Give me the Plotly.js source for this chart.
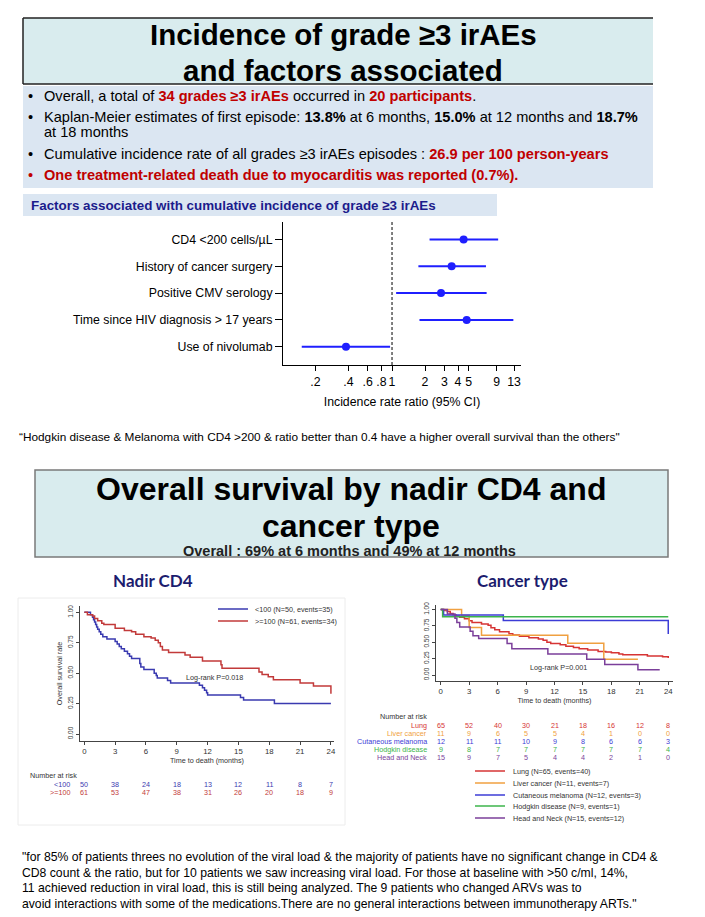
<!DOCTYPE html>
<html><head><meta charset="utf-8">
<script src="https://cdn.plot.ly/plotly-3.0.1.min.js"></script>
<style>html,body{margin:0;padding:0;background:#fff}#chart{width:705px;height:917px}</style>
</head><body><div id="chart"></div>
<script>
// ---------------- Forest plot data ----------------
const factorLabels = ["CD4 <200 cells/µL","History of cancer surgery","Positive CMV serology","Time since HIV diagnosis > 17 years","Use of nivolumab"];
const irrEstimate = [4.5, 3.5, 2.8, 4.8, 0.38];
const irrLower = [2.2, 1.74, 1.09, 1.78, 0.15];
const irrUpper = [9.3, 7.2, 7.3, 12.8, 0.96];
const irrTickVals = [0.2, 0.4, 0.6, 0.8, 1, 2, 3, 4, 5, 9, 13];
const irrTickText = [".2", ".4", ".6", ".8", "1", "2", "3", "4", "5", "9", "13"];

// ---------------- Nadir CD4 KM data ----------------
const kmTicks = [0, 3, 6, 9, 12, 15, 18, 21, 24];
const nadirLowTime = [0,0.6,0.8,0.9,1.0,1.1,1.2,1.3,1.45,1.6,1.8,2.2,3.0,3.2,3.4,3.6,3.9,4.2,4.4,4.6,5.4,5.5,5.8,6.8,7.0,7.1,8.1,8.4,11.2,11.5,11.7,11.9,12.0,15.2,15.5,18.5,24];
const nadirLowSurv = [1,0.98,0.96,0.94,0.92,0.90,0.88,0.86,0.84,0.82,0.80,0.78,0.76,0.74,0.72,0.70,0.68,0.66,0.64,0.62,0.58,0.55,0.53,0.50,0.48,0.46,0.44,0.42,0.40,0.38,0.36,0.34,0.32,0.30,0.28,0.25,0.25];
const nadirHighTime = [0,0.3,0.8,1.0,1.3,1.7,1.9,3.0,3.9,4.6,5.0,5.8,6.5,6.9,7.2,7.4,7.6,8.2,9.8,10.3,11.5,13.3,13.4,17.0,17.3,17.9,18.4,21.0,22.3,24.0];
const nadirHighSurv = [1,0.98,0.97,0.95,0.93,0.91,0.90,0.87,0.85,0.84,0.82,0.80,0.79,0.77,0.75,0.72,0.69,0.67,0.65,0.63,0.60,0.57,0.54,0.51,0.49,0.47,0.445,0.42,0.395,0.33];
const nadirGroupLabels = ["<100", ">=100"];
const nadirGroupN = [50, 61];
const nadirGroupEvents = [35, 34];
const nadirRiskLow = [50, 38, 24, 18, 13, 12, 11, 8, 7];
const nadirRiskHigh = [61, 53, 47, 38, 31, 26, 20, 18, 9];

// ---------------- Cancer type KM data ----------------
const cancerLabels = ["Lung","Liver cancer","Cutaneous melanoma","Hodgkin disease","Head and Neck"];
const cancerN = [65, 11, 12, 9, 15];
const cancerEvents = [40, 7, 3, 1, 12];
const lungTime = [0,0.3,0.7,1.0,1.3,1.6,2.0,2.5,3.0,3.3,4.3,5.0,5.3,5.7,6.2,7.2,7.6,8.3,9.3,10.3,10.8,11.2,11.6,12.6,13.2,14.0,14.6,15.5,16.6,17.4,18.0,18.8,19.2,21.8,23.4,24.0];
const lungSurv = [1,0.985,0.97,0.94,0.92,0.90,0.88,0.86,0.83,0.80,0.78,0.76,0.72,0.69,0.66,0.63,0.61,0.59,0.57,0.55,0.53,0.50,0.48,0.46,0.44,0.42,0.40,0.38,0.36,0.35,0.34,0.32,0.31,0.29,0.28,0.26];
const liverTime = [0, 2.2, 3.0, 4.3, 13.4, 17.2, 20.8];
const liverSurv = [1, 0.909, 0.727, 0.606, 0.485, 0.242, 0.242];
const melanomaTime = [0, 0.3, 6.6, 24];
const melanomaSurv = [1, 0.917, 0.833, 0.625];
const hodgkinTime = [0, 0.2, 24];
const hodgkinSurv = [1, 0.889, 0.889];
const headNeckTime = [0,0.7,1.5,1.7,2.0,3.1,3.4,4.0,7.0,7.5,11.3,15.4,17.3,20.8,23.1];
const headNeckSurv = [1,0.933,0.867,0.80,0.733,0.667,0.60,0.556,0.48,0.40,0.32,0.24,0.16,0.08,0.08];
const riskLung = [65, 52, 40, 30, 21, 18, 16, 12, 8];
const riskLiver = [11, 9, 6, 5, 5, 4, 1, 0, 0];
const riskMelanoma = [12, 11, 11, 10, 9, 8, 6, 6, 3];
const riskHodgkin = [9, 8, 7, 7, 7, 7, 7, 7, 4];
const riskHeadNeck = [15, 9, 7, 5, 4, 4, 2, 1, 0];

// ---------------- helpers ----------------
const W = 705, H = 917;
const px = x => x / W;
const py = y => 1 - y / H;
const F = "Liberation Sans, Arial, Helvetica, sans-serif";
const ann = [];
const shapes = [];
function txt(x, y, text, size, opts) {
  const o = Object.assign({xref:'paper', yref:'paper', x:px(x), y:py(y), text:text, showarrow:false,
    xanchor:'left', yanchor:'middle', font:{family:F, size:size, color:'#000'}}, opts || {});
  ann.push(o);
}
function rect(x0, y0, x1, y1, fill, line) {
  shapes.push({type:'rect', xref:'paper', yref:'paper', layer:'below', x0:px(x0), x1:px(x1), y0:py(y1), y1:py(y0),
    fillcolor:fill, line: line || {width:0}});
}
function hline(x0, y0, x1, y1, color, width) {
  shapes.push({type:'line', xref:'paper', yref:'paper', x0:px(x0), x1:px(x1), y0:py(y0), y1:py(y1), line:{color:color, width:width}});
}

// ---------------- Top text block ----------------
rect(23, 18, 653, 84, '#d9ecee');
hline(23, 18, 653, 18, '#222', 1.5);
hline(23, 18, 23, 84, '#222', 1.5);
hline(23, 84, 653, 84, '#222', 1.5);
rect(23, 86, 653, 188, '#dbe6f2');
txt(343, 35, '<b>Incidence of grade ≥3 irAEs</b>', 29.5, {xanchor:'center'});
txt(343, 70, '<b>and factors associated</b>', 29.5, {xanchor:'center'});
const RED = '#c00000';
const bs = 14.6;
txt(30.7, 96, '•', bs, {xanchor:'center'});
txt(42.3, 96, 'Overall, a total of <b><span style="color:'+RED+'">34 grades ≥3 irAEs</span></b> occurred in <b><span style="color:'+RED+'">20 participants</span></b>.', bs);
txt(30.7, 117, '•', bs, {xanchor:'center'});
txt(42.3, 117, 'Kaplan-Meier estimates of first episode: <b>13.8%</b> at 6 months, <b>15.0%</b> at 12 months and <b>18.7%</b>', bs);
txt(42.3, 132, 'at 18 months', bs);
txt(30.7, 154, '•', bs, {xanchor:'center'});
txt(42.3, 154, 'Cumulative incidence rate of all grades ≥3 irAEs episodes : <b><span style="color:'+RED+'">26.9 per 100 person-years</span></b>', bs);
txt(30.7, 175, '•', bs, {xanchor:'center', font:{family:F, size:bs, color:RED}});
txt(42.3, 175, '<b>One treatment-related death due to myocarditis was reported (0.7%).</b>', bs, {font:{family:F, size:bs, color:RED}});

// Factors header
rect(23, 194, 497, 216, '#dbe6f2');
txt(29, 205, '<b>Factors associated with cumulative incidence of grade ≥3 irAEs</b>', 13.4, {font:{family:F, size:13.4, color:'#1c1c8c'}});

// Quote 1
txt(17, 437, '“Hodgkin disease &amp; Melanoma with CD4 &gt;200 &amp; ratio better than 0.4 have a higher overall survival than the others"', 11.8);

// Overall survival box
rect(35, 470, 668, 557, '#d9ecee', {color:'#7a7a7a', width:1.5});
txt(351, 489, '<b>Overall survival by nadir CD4 and</b>', 32, {xanchor:'center'});
txt(351, 526, '<b>cancer type</b>', 32, {xanchor:'center'});
txt(349, 551, '<b>Overall : 69% at 6 months and 49% at 12 months</b>', 14.5, {xanchor:'center', font:{family:F, size:14.5, color:'#222'}});

// Panel titles
const NAVY = '#1c1c6e';
txt(153, 580, '<b>Nadir CD4</b>', 17, {xanchor:'center', font:{family:'Lato, Open Sans, sans-serif', size:17, color:NAVY}});
txt(522, 580, '<b>Cancer type</b>', 17, {xanchor:'center', font:{family:'Lato, Open Sans, sans-serif', size:17, color:NAVY}});
shapes.push({type:'rect', xref:'paper', yref:'paper', layer:'below', x0:px(18), x1:px(345), y0:py(825), y1:py(598), line:{color:'#ececec', width:1}, fillcolor:'rgba(0,0,0,0)'});

// Bottom quote
const bq = 12.2;
txt(20, 857, '"for 85% of patients threes no evolution of the viral load &amp; the majority of patients have no significant change in CD4 &amp;', bq);
txt(20, 873, 'CD8 count &amp; the ratio, but for 10 patients we saw increasing viral load. For those at baseline with &gt;50 c/ml, 14%,', bq);
txt(20, 888, '11 achieved reduction in viral load, this is still being analyzed. The 9 patients who changed ARVs was to', bq);
txt(20, 904, 'avoid interactions with some of the medications.There are no general interactions between immunotherapy ARTs."', bq);

// ---------------- Traces ----------------
const traces = [];
const BLUE_F = '#1f1fff';
const pos = factorLabels.map((_, i) => factorLabels.length - i);
const ciX = [], ciY = [];
factorLabels.forEach((f, i) => { ciX.push(irrLower[i], irrUpper[i], null); ciY.push(pos[i], pos[i], null); });
traces.push({type:'scatter', mode:'lines', x:ciX, y:ciY, xaxis:'x', yaxis:'y', line:{color:BLUE_F, width:2}, hoverinfo:'skip'});
traces.push({type:'scatter', mode:'markers', x:irrEstimate, y:pos, xaxis:'x', yaxis:'y', marker:{color:BLUE_F, size:8}});
shapes.push({type:'line', xref:'x', yref:'y domain', x0:1, x1:1, y0:0, y1:1, line:{color:'#000', width:1, dash:'3px,2px'}});

// Nadir KM
const nadirColors = ['#3a3ab0', '#c23a3a'];
const nadirSeries = [[nadirLowTime, nadirLowSurv], [nadirHighTime, nadirHighSurv]];
nadirSeries.forEach((s, i) => traces.push({type:'scatter', mode:'lines', x:s[0], y:s[1], xaxis:'x2', yaxis:'y2',
  line:{shape:'hv', color:nadirColors[i], width:1.5}, name:nadirGroupLabels[i]}));

// Cancer KM
const cancerColors = ['#d63434', '#f0a040', '#3c3cd6', '#3cb44b', '#7b3f9a'];
const cancerSeries = [[lungTime, lungSurv], [liverTime, liverSurv], [melanomaTime, melanomaSurv], [hodgkinTime, hodgkinSurv], [headNeckTime, headNeckSurv]];
cancerSeries.forEach((s, i) => traces.push({type:'scatter', mode:'lines', x:s[0], y:s[1], xaxis:'x3', yaxis:'y3',
  line:{shape:'hv', color:cancerColors[i], width:1.5}, name:cancerLabels[i]}));

// ---------------- KM annotations ----------------
const KF = 7.2;
const GREY = '#333';
nadirGroupLabels.forEach((g, i) => {
  const yy = 609 + i * 12;
  hline(218, yy, 248, yy, nadirColors[i], 1.5);
  txt(253, yy, g + ' (N=' + nadirGroupN[i] + ', events=' + nadirGroupEvents[i] + ')', KF, {font:{family:F, size:KF, color:GREY}});
});
ann.push({xref:'x2', yref:'y2', x:9.7, y:0.468, text:'Log-rank P=0.018', showarrow:false, xanchor:'left', yanchor:'middle', font:{family:F, size:KF, color:GREY}});
txt(28, 775, 'Number at risk', KF, {font:{family:F, size:KF, color:GREY}});
[nadirRiskLow, nadirRiskHigh].forEach((row, gi) => {
  const yy = 784 + gi * 8;
  txt(72, yy, nadirGroupLabels[gi], KF, {xanchor:'right', font:{family:F, size:KF, color:nadirColors[gi]}});
  row.forEach((v, i) => ann.push({xref:'x2', yref:'paper', x:kmTicks[i], y:py(yy), text:String(v), showarrow:false,
    xanchor:'center', yanchor:'middle', font:{family:F, size:KF, color:nadirColors[gi]}}));
});

ann.push({xref:'x3', yref:'y3', x:12.4, y:0.12, text:'Log-rank P=0.001', showarrow:false, xanchor:'center', yanchor:'middle', font:{family:F, size:KF, color:GREY}});
txt(429, 716, 'Number at risk', KF, {xanchor:'right', font:{family:F, size:KF, color:GREY}});
const cancerRisk = [riskLung, riskLiver, riskMelanoma, riskHodgkin, riskHeadNeck];
const legY = [771, 783, 795, 806, 818];
cancerLabels.forEach((lab, gi) => {
  const yy = 725 + gi * 8;
  txt(429, yy, lab, KF, {xanchor:'right', font:{family:F, size:KF, color:cancerColors[gi]}});
  cancerRisk[gi].forEach((v, i) => ann.push({xref:'x3', yref:'paper', x:kmTicks[i], y:py(yy), text:String(v), showarrow:false,
    xanchor:'center', yanchor:'middle', font:{family:F, size:KF, color:cancerColors[gi]}}));
  hline(475, legY[gi], 505, legY[gi], cancerColors[gi], 1.5);
  txt(511, legY[gi], lab + ' (N=' + cancerN[gi] + ', events=' + cancerEvents[gi] + ')', KF, {font:{family:F, size:KF, color:GREY}});
});

// ---------------- Layout ----------------
const kmAxisX = (dom, rng, anchor, standoff) => ({domain:dom, range:rng, anchor:anchor, tickvals:kmTicks, ticks:'outside', ticklen:3,
  tickcolor:'#444', showline:true, linecolor:'#444', linewidth:1, showgrid:false, zeroline:false, tickangle:0,
  tickfont:{family:F, size:7.8, color:GREY},
  title:{text:'Time to death (months)', font:{family:F, size:KF, color:GREY}, standoff:standoff}});
const kmAxisY = (dom, rng, anchor, title) => ({domain:dom, range:rng, anchor:anchor, tickvals:[0,0.25,0.5,0.75,1],
  ticktext:['0.00','0.25','0.50','0.75','1.00'], tickangle:-90, ticks:'outside', ticklen:3, tickcolor:'#444',
  showline:true, linecolor:'#444', linewidth:1, showgrid:false, zeroline:false,
  tickfont:{family:F, size:6.5, color:GREY},
  title:{text:title, font:{family:F, size:KF, color:GREY}, standoff:3}});

const layout = {
  width:W, height:H, margin:{l:0, r:0, t:0, b:0}, paper_bgcolor:'#fff', plot_bgcolor:'rgba(0,0,0,0)',
  showlegend:false, font:{family:F, color:'#000'},
  xaxis:{domain:[px(283), px(521)], type:'log', range:[-0.995, 1.177], anchor:'y', tickvals:irrTickVals, ticktext:irrTickText,
    tickangle:0, ticks:'outside', ticklen:5, tickcolor:'#000', showline:true, linecolor:'#000', linewidth:1,
    showgrid:false, zeroline:false, tickfont:{family:F, size:12.3, color:'#000'},
    title:{text:'Incidence rate ratio (95% CI)', font:{family:F, size:12.3, color:'#000'}, standoff:9}},
  yaxis:{domain:[py(365), py(221.7)], range:[0.32, 5.66], anchor:'x', tickvals:pos, ticktext:factorLabels,
    ticks:'outside', ticklen:7, tickcolor:'#000', showline:true, linecolor:'#000', linewidth:1,
    showgrid:false, zeroline:false, tickfont:{family:F, size:12.3, color:'#000'}},
  xaxis2:kmAxisX([px(80), px(334)], [-0.42, 24.3], 'y2', 2),
  yaxis2:kmAxisY([py(741), py(606)], [-0.0575, 1.052], 'x2', 'Overall survival rate'),
  xaxis3:kmAxisX([px(436), px(673)], [-0.5, 24.5], 'y3', 2),
  yaxis3:kmAxisY([py(681), py(605)], [-0.0916, 1.0687], 'x3', ''),
  annotations:ann, shapes:shapes
};
Plotly.newPlot('chart', traces, layout, {displayModeBar:false, staticPlot:true});
</script></body></html>
